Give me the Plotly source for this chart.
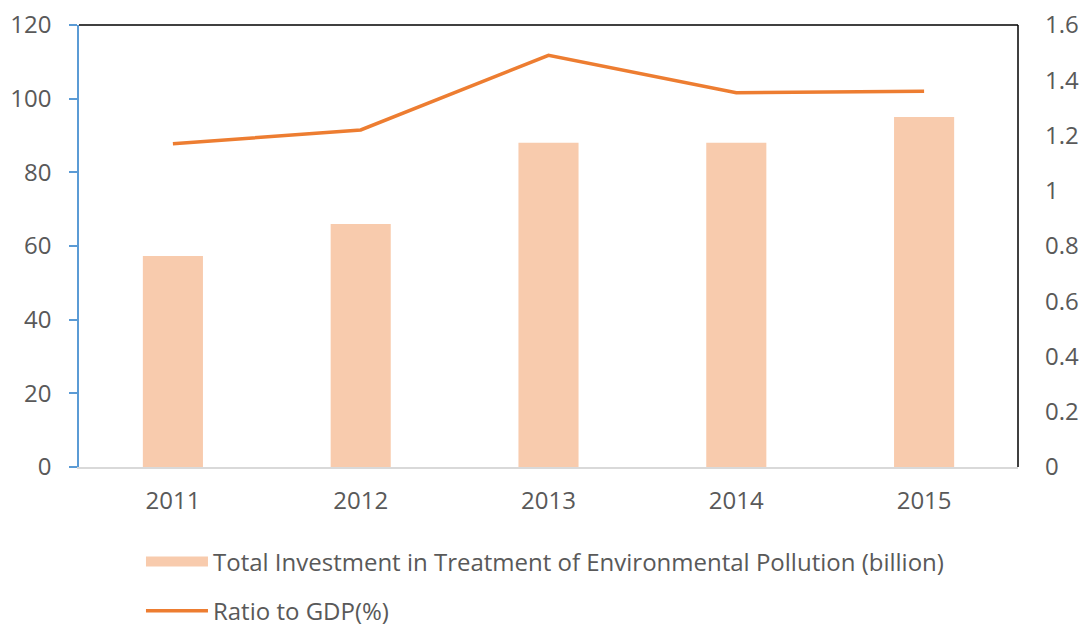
import plotly.graph_objects as go

years = ["2011", "2012", "2013", "2014", "2015"]
investment = [57.3, 66.0, 88.0, 88.0, 95.0]
ratio_gdp = [1.17, 1.22, 1.49, 1.355, 1.36]
left_ticks = [0, 20, 40, 60, 80, 100, 120]
right_ticks = [0, 0.2, 0.4, 0.6, 0.8, 1.0, 1.2, 1.4, 1.6]
right_ticktext = ["0", "0.2", "0.4", "0.6", "0.8", "1", "1.2", "1.4", "1.6"]
bar_name = "Total Investment in Treatment of Environmental Pollution (billion)"
line_name = "Ratio to GDP(%)"

font_family = "Open Sans, Liberation Sans, sans-serif"
gray = "#595959"
bar_color = "#F8CBAD"
line_color = "#ED7D31"

fig = go.Figure()
fig.add_trace(go.Bar(
    x=years, y=investment, name=bar_name, showlegend=False,
    marker=dict(color=bar_color, line=dict(width=0)),
    yaxis="y",
))
# legend swatch for the bars (wide rectangle, as in the reference)
fig.add_trace(go.Scatter(
    x=[None], y=[None], name=bar_name, mode="lines",
    line=dict(color=bar_color, width=14), legendgroup="a", yaxis="y",
))
fig.add_trace(go.Scatter(
    x=years, y=ratio_gdp, name=line_name, legendgroup="b",
    mode="lines", line=dict(color=line_color, width=3.5),
    yaxis="y2",
))

fig.update_layout(
    width=1084, height=628,
    margin=dict(l=79, r=66, t=25, b=161, autoexpand=False),
    paper_bgcolor="white", plot_bgcolor="white",
    bargap=0.68,
    font=dict(family=font_family, size=24, color=gray),
    xaxis=dict(
        showgrid=False, showline=True, linecolor="#D9D9D9", linewidth=1.5,
        ticks="", tickfont=dict(size=24, color=gray), zeroline=False,
        ticklabelstandoff=11,
    ),
    yaxis=dict(
        range=[0, 120], tickvals=left_ticks, showgrid=False, zeroline=False,
        showline=True, linecolor="#5B9BD5", linewidth=1.5,
        ticks="outside", ticklen=8, tickcolor="#5B9BD5", tickwidth=1.5,
        tickfont=dict(size=24, color=gray), ticklabelstandoff=13,
    ),
    yaxis2=dict(
        range=[0, 1.6], tickvals=right_ticks, ticktext=right_ticktext,
        overlaying="y", side="right", showgrid=False, zeroline=False,
        showline=False, ticks="", ticklabelstandoff=26,
        tickfont=dict(size=24, color=gray),
    ),
    legend=dict(
        orientation="v", x=0.066, xanchor="left", y=-0.164, yanchor="top",
        font=dict(size=24, color=gray), tracegroupgap=15,
        itemwidth=62, bgcolor="rgba(0,0,0,0)",
    ),
    shapes=[
        dict(type="line", xref="paper", yref="paper", x0=0, x1=1, y0=1, y1=1,
             line=dict(color="black", width=1.5)),
        dict(type="line", xref="paper", yref="paper", x0=1, x1=1, y0=0, y1=1,
             line=dict(color="black", width=1.5)),
    ],
)

fig.write_html("out.html")
